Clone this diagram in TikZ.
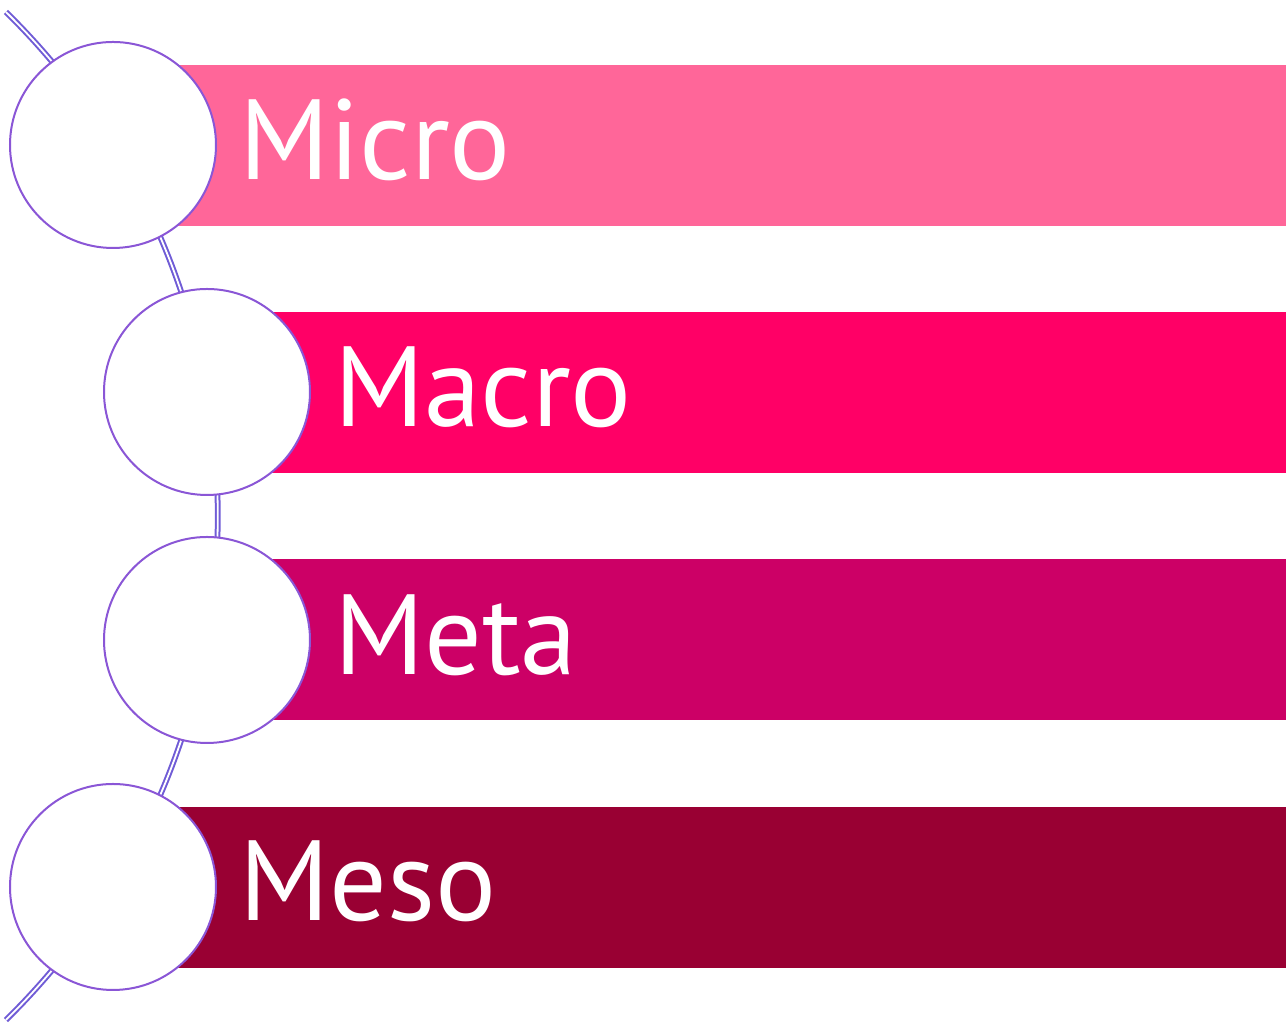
\documentclass[tikz,border=0pt]{standalone}
\usepackage{fontspec}
\setmainfont{PT Sans}
\usepackage{tikz}
\usetikzlibrary{arrows}

\definecolor{arccol}{RGB}{112,92,214}
\definecolor{ringcol}{RGB}{138,86,214}
\definecolor{microcol}{RGB}{255,102,153}
\definecolor{macrocol}{RGB}{255,0,102}
\definecolor{metacol}{RGB}{204,0,102}
\definecolor{mesocol}{RGB}{153,0,51}

\begin{document}
\begin{tikzpicture}[x=0.5pt, y=0.5pt, every node/.style={inner sep=0pt, outer sep=0pt}]
	
	\tikzset{disc/.style = {circle, draw=ringcol, line width=1pt, fill=white, minimum size=103pt}}
	\tikzset{word/.style = {anchor=base west, text=white, font=\fontsize{57}{60}\selectfont}}
	\tikzset{spine/.style = {draw=arccol, line width=1pt, double=white, double distance=0.9pt}}
	
	\useasboundingbox (0,0) rectangle (1286,1026);
	
	% the arc behind the circles
	\coordinate (arc) at (-487.7,510);
	\draw[spine] (arc) ++(45.6:352.75pt) arc[start angle=45.6, end angle=-45.6, radius=352.75pt];
	
	% bars
	\fill[microcol] (113,800) rectangle (1286,961);
	\fill[macrocol] (207,553) rectangle (1286,714);
	\fill[metacol]  (207,306) rectangle (1286,467);
	\fill[mesocol]  (113,58)  rectangle (1286,219);
	
	% circles
	\node[disc] (1) at (113,881) {};
	\node[disc] (2) at (207,634) {};
	\node[disc] (3) at (207,386) {};
	\node[disc] (4) at (113,139) {};
	
	% labels
	\node[word] (5) at (239,846) {Micro};
	\node[word] (6) at (334,599) {Macro};
	\node[word] (7) at (334,351) {Meta};
	\node[word] (8) at (239,105) {Meso};
	
\end{tikzpicture}
\end{document}
